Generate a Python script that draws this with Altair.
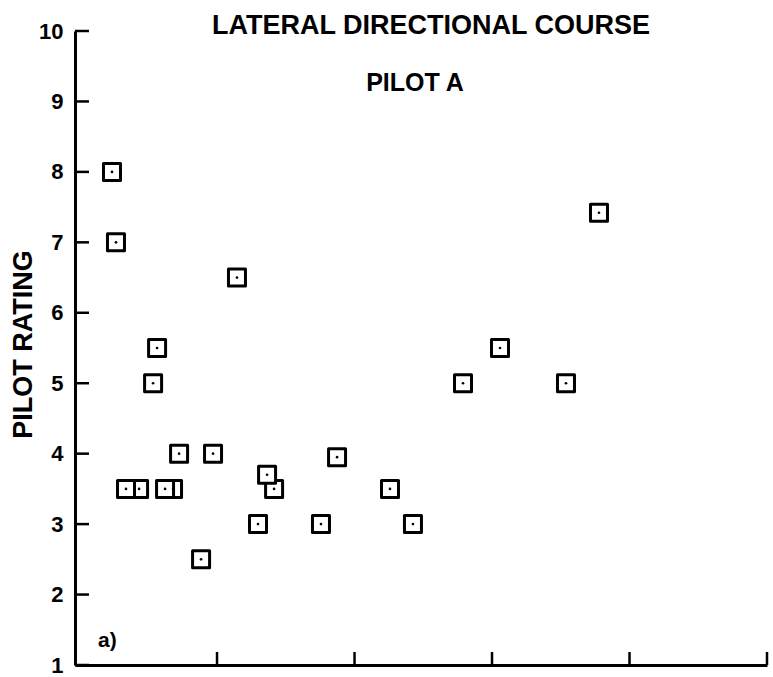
import altair as alt
import pandas as pd

# Data (x in tick units, y = pilot rating)
x_vals = [0.236, 0.265, 0.433, 0.338, 0.680, 0.622, 0.535, 0.564, 0.724, 0.971,
          0.884, 1.145, 1.298, 1.415, 1.364, 1.756, 1.873, 2.258, 2.425, 2.789,
          3.058, 3.538, 3.778]
y_vals = [8.0, 7.0, 3.5, 3.5, 3.5, 3.5, 5.0, 5.5, 4.0, 4.0,
          2.5, 6.5, 3.0, 3.5, 3.7, 3.0, 3.95, 3.5, 3.0, 5.0,
          5.5, 5.0, 7.42]
y_ticks = [1, 2, 3, 4, 5, 6, 7, 8, 9, 10]
x_ticks = [1, 2, 3, 4, 5]
title_text = "LATERAL DIRECTIONAL COURSE"
subtitle_text = "PILOT A"
y_title = "PILOT RATING"
panel_label = "a)"

FONT = "Liberation Sans"
W, H = 692, 634

df = pd.DataFrame({"x": x_vals, "y": y_vals})
xs = alt.Scale(domain=[-0.033, 5], nice=False, zero=False)
ys = alt.Scale(domain=[1, 10], nice=False, zero=False)

x_axis = alt.Axis(labels=False, ticks=False, grid=False, domainColor="black",
                  domainWidth=3, title=None)
y_axis = alt.Axis(values=y_ticks, ticks=False, grid=False, domainColor="black",
                  domainWidth=3, labelFont=FONT, labelFontSize=22,
                  labelFontWeight="bold", labelColor="black", labelPadding=12,
                  title=y_title, titleFont=FONT, titleFontSize=27,
                  titleFontWeight="bold", titleColor="black", titleAngle=270,
                  titleX=-52, titleY=313, titleAlign="center",
                  titleBaseline="middle")

X = alt.X("x:Q", scale=xs, axis=x_axis)
Y = alt.Y("y:Q", scale=ys, axis=y_axis)

ytick_layer = alt.Chart(pd.DataFrame({"y": y_ticks})).mark_rule(
    color="black", strokeWidth=2.5).encode(y=Y, x=alt.value(0), x2=alt.value(14))

xtick_layer = alt.Chart(pd.DataFrame({"x": x_ticks})).mark_rule(
    color="black", strokeWidth=2.5).encode(x=X, y=alt.value(H), y2=alt.value(H - 13))

squares = alt.Chart(df).mark_point(
    shape="square", filled=True, fill="white", fillOpacity=1, stroke="black",
    strokeWidth=3, size=289, opacity=1, strokeJoin="round").encode(x=X, y=Y)

dots = alt.Chart(df).mark_circle(size=7, color="black", opacity=1).encode(x=X, y=Y)

title_layer = alt.Chart(pd.DataFrame({"t": [title_text]})).mark_text(
    font=FONT, fontSize=27, fontWeight="bold", color="black",
    align="center", baseline="middle").encode(
    text="t:N", x=alt.value(356), y=alt.value(-5))

subtitle_layer = alt.Chart(pd.DataFrame({"t": [subtitle_text]})).mark_text(
    font=FONT, fontSize=25, fontWeight="bold", color="black",
    align="center", baseline="middle").encode(
    text="t:N", x=alt.value(340), y=alt.value(52))

label_layer = alt.Chart(pd.DataFrame({"t": [panel_label]})).mark_text(
    font=FONT, fontSize=21, fontWeight="bold", color="black",
    align="left", baseline="middle").encode(
    text="t:N", x=alt.value(23), y=alt.value(610))

chart = alt.layer(
    ytick_layer, xtick_layer, squares, dots, title_layer, subtitle_layer, label_layer
).properties(
    width=W, height=H,
    autosize=alt.AutoSizeParams(type="none"),
    padding={"left": 75, "top": 31, "right": 6, "bottom": 12},
    background="white",
).configure_view(stroke=None)

chart.save("out.html", embed_options={"renderer": "svg", "actions": False})
